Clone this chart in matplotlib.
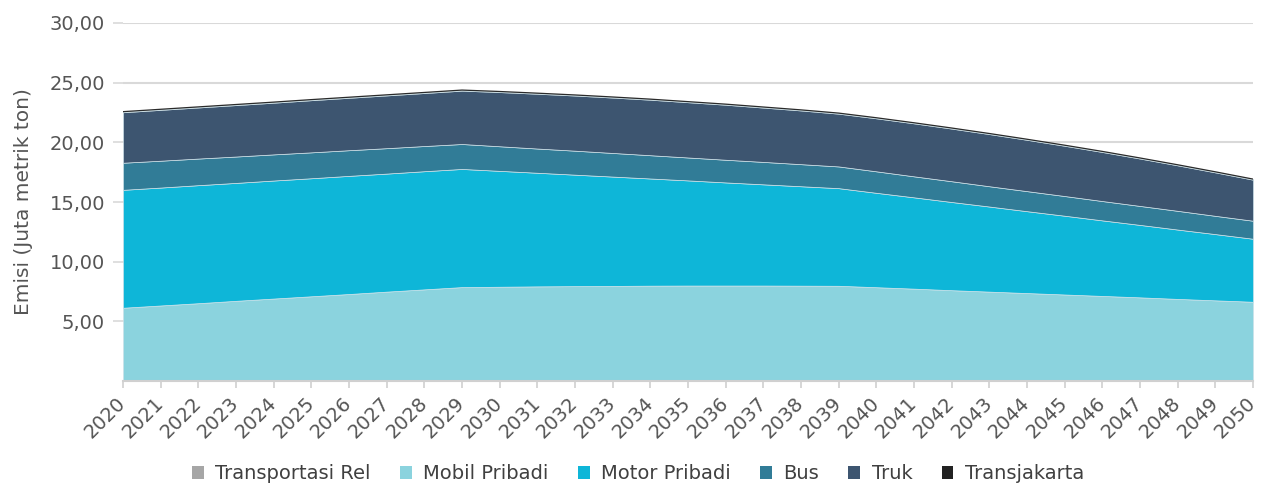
import matplotlib.pyplot as plt
from matplotlib.patches import Patch
import numpy as np

years = list(range(2020, 2051))

# emisi per moda (juta metrik ton)
rel = [0.02] * 31
mobil = [6.12, 6.31, 6.50, 6.70, 6.89, 7.08, 7.27, 7.47, 7.66, 7.85,
         7.88, 7.91, 7.93, 7.95, 7.97, 7.98, 7.98, 7.98, 7.97, 7.96,
         7.84, 7.72, 7.59, 7.47, 7.35, 7.23, 7.11, 6.99, 6.86, 6.74, 6.62]
motor = [9.88, 9.88, 9.89, 9.88, 9.89, 9.89, 9.90, 9.89, 9.90, 9.90,
         9.71, 9.52, 9.34, 9.16, 8.98, 8.81, 8.64, 8.48, 8.33, 8.18,
         7.91, 7.65, 7.39, 7.13, 6.86, 6.60, 6.33, 6.07, 5.81, 5.55, 5.28]
bus = [2.27, 2.25, 2.23, 2.21, 2.19, 2.17, 2.15, 2.13, 2.11, 2.09,
       2.06, 2.03, 2.01, 1.98, 1.95, 1.92, 1.90, 1.88, 1.85, 1.82,
       1.80, 1.76, 1.74, 1.70, 1.68, 1.65, 1.62, 1.59, 1.57, 1.53, 1.51]
truk = [4.23, 4.26, 4.28, 4.31, 4.33, 4.37, 4.39, 4.42, 4.44, 4.47,
        4.54, 4.59, 4.62, 4.64, 4.65, 4.63, 4.61, 4.55, 4.50, 4.42,
        4.44, 4.44, 4.41, 4.37, 4.30, 4.21, 4.11, 3.97, 3.81, 3.64, 3.44]
transjakarta = [0.05] * 31

labels = ['Transportasi Rel', 'Mobil Pribadi', 'Motor Pribadi', 'Bus', 'Truk', 'Transjakarta']
colors = ['#a6a6a6', '#8bd3de', '#0eb6d8', '#317c97', '#3d5570', '#222222']

plt.rcParams['font.family'] = ['DejaVu Sans']

fig = plt.figure(figsize=(12.61, 4.86), dpi=100)
ax = fig.add_axes([0.0975, 0.216, 0.8962, 0.7367])

series = [rel, mobil, motor, bus, truk, transjakarta]
ax.stackplot(years, *series, colors=colors, edgecolor='#cfe3ea', linewidth=0.5, zorder=2)
# garis atas (Transjakarta)
top = np.sum(np.array(series), axis=0)
ax.plot(years, top, color='#2a2a2a', lw=0.9, zorder=3)

ax.set_xlim(2020, 2050)
ax.set_ylim(0, 30)
ax.set_yticks([5, 10, 15, 20, 25, 30])
ax.set_yticklabels(['5,00', '10,00', '15,00', '20,00', '25,00', '30,00'])
ax.yaxis.grid(True, color='#d9d9d9', lw=1.5, zorder=0)
ax.set_axisbelow(True)
ax.set_xticks(years)
ax.set_xticklabels([str(y) for y in years], rotation=45, ha='right', va='center',
                   rotation_mode='anchor')

for s in ['top', 'right', 'left']:
    ax.spines[s].set_visible(False)
ax.spines['bottom'].set_color('#d0d0d0')
ax.spines['bottom'].set_linewidth(1.5)
ax.tick_params(axis='x', colors='#d0d0d0', labelcolor='#555555', length=5, width=1.2,
               labelsize=14, pad=9)
ax.tick_params(axis='y', colors='#d9d9d9', labelcolor='#555555', length=7, width=1.2,
               labelsize=14, pad=6)
ax.set_ylabel('Emisi (Juta metrik ton)', fontsize=14.5, color='#555555', labelpad=12)

handles = [Patch(facecolor=c, edgecolor='none') for c in colors]
fig.legend(handles, labels, loc='center', bbox_to_anchor=(0.506, 0.025), ncol=6,
           frameon=False, fontsize=14, labelcolor='#404040', handlelength=0.6,
           handleheight=0.6, handletextpad=0.6, columnspacing=1.5)

fig.savefig('out.png', dpi=100)
